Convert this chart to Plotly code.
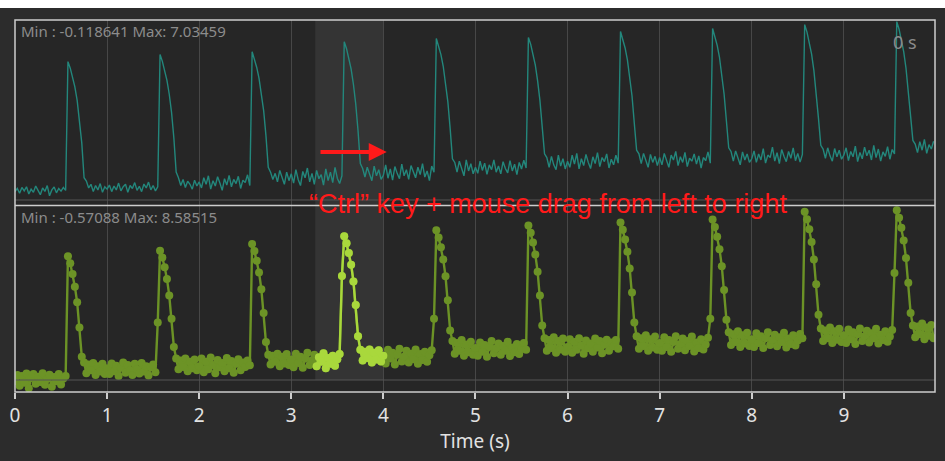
import numpy as np
import plotly.graph_objects as go

# ---------------- data ----------------
DT = 0.025  # sampling step (s) of both traces
SEL_START, SEL_END = 3.26, 4.0  # highlighted (selected) time window

top_0 = [0.05, 0.18, -0.02, 0.22, 0.08, 0.25, -0.05, 0.15, 0.02, 0.28, 0.10, -0.08, 0.20, 0.06, 0.30, -0.12, 0.12, 0.24, 0.00, 0.18, 0.07, 0.22, 0.10,
         5.39, 5.12, 4.78, 4.35, 3.80, 3.05, 2.05, 0.62, 0.48, 0.20, 0.35, 0.05, 0.30, 0.12, 0.38, 0.02, 0.25]
top_1 = [0.15, 0.32, 0.05, 0.28, 0.12, 0.40, 0.08, 0.25, 0.35, 0.02, 0.30, 0.18, 0.42, 0.10, 0.27, 0.05, 0.36, 0.20, 0.44, 0.12, 0.30, 0.08, 0.25,
         5.68, 5.40, 5.05, 4.62, 4.05, 3.30, 2.25, 0.85, 0.62, 0.30, 0.55, 0.22, 0.48, 0.35, 0.15, 0.52, 0.28]
top_2 = [0.45, 0.20, 0.62, 0.35, 0.70, 0.15, 0.50, 0.28, 0.66, 0.40, 0.10, 0.58, 0.32, 0.72, 0.25, 0.55, 0.38, 0.68, 0.18, 0.52, 0.42, 0.74, 0.30,
         5.80, 5.50, 5.15, 4.70, 4.12, 3.38, 2.35, 1.05, 0.85, 0.55, 0.80, 0.45, 0.92, 0.60, 0.35, 0.85, 0.50]
top_3 = [0.78, 0.40, 0.95, 0.55, 0.30, 0.88, 0.62, 1.02, 0.45, 0.80, 0.35, 0.92, 0.58, 0.75, 0.32, 0.98, 0.50, 0.85, 0.42, 1.05, 0.60, 0.38, 0.70,
         6.21, 5.92, 5.55, 5.08, 4.45, 3.65, 2.55, 1.20, 1.00, 0.65, 1.05, 0.75, 0.50, 1.10, 0.70, 0.95, 0.55]
top_4 = [0.72, 1.15, 0.60, 0.98, 0.52, 1.08, 0.80, 0.58, 1.18, 0.70, 0.95, 0.55, 1.12, 0.82, 0.62, 1.05, 0.75, 1.20, 0.65, 0.90, 0.50, 1.10, 0.85,
         6.34, 6.05, 5.68, 5.20, 4.55, 3.75, 2.65, 1.40, 1.25, 0.85, 1.30, 0.95, 0.70, 1.35, 0.90, 1.20, 0.78]
top_5 = [1.05, 0.80, 1.30, 0.92, 1.22, 0.76, 1.15, 0.95, 1.35, 0.85, 1.10, 0.78, 1.28, 1.00, 0.82, 1.32, 0.90, 1.18, 0.75, 1.25, 0.98, 1.34, 1.02,
         6.38, 6.10, 5.72, 5.25, 4.60, 3.80, 2.70, 1.60, 1.45, 1.05, 1.50, 1.15, 0.95, 1.55, 1.10, 1.40, 0.98]
top_6 = [1.30, 1.05, 1.55, 1.18, 1.62, 0.98, 1.40, 1.12, 1.58, 1.25, 1.00, 1.48, 1.20, 1.65, 1.08, 1.45, 1.28, 1.60, 1.02, 1.38, 1.15, 1.55, 1.22,
         6.63, 6.33, 5.95, 5.46, 4.80, 3.98, 2.85, 1.75, 1.60, 1.20, 1.62, 1.30, 1.05, 1.58, 1.25, 1.50, 1.12]
top_7 = [1.45, 1.15, 1.62, 1.28, 1.05, 1.55, 1.35, 1.70, 1.12, 1.48, 1.25, 1.66, 1.08, 1.42, 1.30, 1.60, 1.18, 1.52, 1.02, 1.45, 1.32, 1.68, 1.22,
         6.75, 6.45, 6.06, 5.56, 4.90, 4.05, 2.95, 1.85, 1.70, 1.30, 1.72, 1.40, 1.15, 1.68, 1.35, 1.60, 1.25]
top_8 = [1.40, 1.72, 1.25, 1.60, 1.35, 1.82, 1.22, 1.55, 1.45, 1.88, 1.30, 1.65, 1.20, 1.78, 1.50, 1.28, 1.70, 1.42, 1.85, 1.32, 1.62, 1.26, 1.58,
         6.91, 6.60, 6.20, 5.70, 5.02, 4.15, 3.05, 1.95, 1.80, 1.42, 1.85, 1.52, 1.30, 1.82, 1.48, 1.75, 1.38]
top_9 = [1.55, 1.85, 1.32, 1.70, 1.48, 1.92, 1.28, 1.66, 1.40, 1.88, 1.52, 1.75, 1.35, 1.95, 1.45, 1.80, 1.30, 1.68, 1.50, 1.90, 1.38, 1.78, 1.60,
         7.03459, 6.72, 6.32, 5.80, 5.12, 4.25, 3.15, 2.15, 2.00, 1.65, 2.10, 1.75, 2.20, 1.62, 1.98, 1.80, 2.12]

bot_0 = [-0.20, 0.10, -0.45, 0.05, -0.30, 0.18, -0.57088, -0.05, 0.15, -0.35, 0.02, -0.25, 0.20, -0.40, -0.10, 0.12, -0.50, 0.00, -0.22, 0.16, -0.38, -0.08, 0.05,
         6.22, 5.85, 5.30, 4.65, 3.85, 2.55, 1.05, 0.75, 0.20, 0.65, 0.35, 0.72, 0.10, 0.55, 0.28, 0.68, 0.15]
bot_1 = [0.45, 0.15, 0.70, 0.30, 0.58, 0.05, 0.48, 0.75, 0.22, 0.62, 0.35, 0.10, 0.68, 0.40, 0.18, 0.72, 0.28, 0.55, 0.08, 0.50, 0.65, 0.25, 2.80,
         6.50, 6.15, 5.65, 5.05, 4.20, 3.00, 1.55, 0.95, 0.40, 0.85, 0.52, 0.95, 0.30, 0.78, 0.45, 0.90, 0.35]
bot_2 = [0.55, 0.95, 0.25, 0.78, 0.40, 1.00, 0.62, 0.20, 0.88, 0.50, 0.72, 0.30, 0.98, 0.45, 0.82, 0.22, 0.68, 0.92, 0.35, 0.75, 0.52, 0.85, 0.60,
         6.85, 6.48, 5.98, 5.38, 4.52, 3.30, 1.80, 1.15, 0.65, 1.10, 0.78, 1.20, 0.55, 1.05, 0.70, 1.18, 0.62]
bot_3 = [0.90, 0.50, 1.20, 0.72, 1.05, 0.48, 0.95, 1.25, 0.62, 0.85, 1.15, 0.55, 1.02, 0.78, 1.22, 0.45, 0.98, 0.68, 1.10, 0.58, 0.92, 1.18, 5.20,
         7.25, 6.88, 6.38, 5.78, 4.92, 3.70, 2.10, 1.40, 0.85, 1.30, 0.98, 1.42, 0.75, 1.25, 0.90, 1.38, 0.80]
bot_4 = [1.10, 0.70, 1.40, 0.95, 1.25, 0.65, 1.15, 1.45, 0.80, 1.05, 1.35, 0.75, 1.20, 0.92, 1.42, 0.68, 1.18, 0.88, 1.30, 0.78, 1.12, 1.38, 3.00,
         7.55, 7.18, 6.68, 6.05, 5.18, 3.95, 2.40, 1.85, 1.20, 1.75, 1.35, 1.90, 1.10, 1.68, 1.28, 1.82, 1.15]
bot_5 = [1.50, 1.10, 1.78, 1.30, 1.65, 1.05, 1.55, 1.85, 1.22, 1.48, 1.72, 1.15, 1.60, 1.35, 1.82, 1.08, 1.52, 1.28, 1.70, 1.18, 1.45, 1.75, 1.40,
         7.80, 7.42, 6.92, 6.30, 5.42, 4.20, 2.65, 2.00, 1.35, 1.90, 1.50, 2.05, 1.25, 1.85, 1.42, 1.98, 1.30]
bot_6 = [1.55, 1.95, 1.25, 1.80, 1.40, 2.00, 1.62, 1.20, 1.88, 1.48, 1.72, 1.30, 1.98, 1.52, 1.85, 1.22, 1.68, 1.92, 1.35, 1.78, 1.58, 1.90, 1.45,
         7.95, 7.58, 7.08, 6.45, 5.58, 4.35, 2.80, 2.10, 1.45, 2.00, 1.60, 2.15, 1.35, 1.95, 1.52, 2.08, 1.40]
bot_7 = [1.75, 1.35, 2.05, 1.55, 1.90, 1.30, 1.80, 2.10, 1.45, 1.70, 1.98, 1.38, 1.85, 1.60, 2.08, 1.32, 1.78, 1.50, 1.95, 1.42, 1.68, 2.02, 3.00,
         8.10, 7.72, 7.22, 6.58, 5.70, 4.48, 2.95, 2.30, 1.65, 2.20, 1.80, 2.35, 1.55, 2.15, 1.72, 2.28, 1.60]
bot_8 = [1.95, 1.55, 2.25, 1.75, 2.10, 1.50, 2.00, 2.30, 1.65, 1.90, 2.18, 1.58, 2.05, 1.80, 2.28, 1.52, 1.98, 1.70, 2.15, 1.62, 1.88, 2.22, 2.00,
         8.50, 8.12, 7.60, 6.95, 6.05, 4.78, 3.20, 2.50, 1.85, 2.40, 2.00, 2.55, 1.75, 2.35, 1.92, 2.48, 1.80]
bot_9 = [2.15, 1.75, 2.45, 1.95, 2.30, 1.70, 2.20, 2.50, 1.85, 2.10, 2.38, 1.78, 2.25, 2.00, 2.48, 1.72, 2.18, 1.90, 2.35, 1.82, 2.08, 2.42, 5.35,
         8.58515, 8.20, 7.68, 7.02, 6.12, 4.85, 3.30, 2.65, 2.05, 2.60, 2.20, 2.75, 1.95, 2.55, 2.12, 2.68, 2.00]

top_cycles = [top_0, top_1, top_2, top_3, top_4, top_5, top_6, top_7, top_8, top_9]
bot_cycles = [bot_0, bot_1, bot_2, bot_3, bot_4, bot_5, bot_6, bot_7, bot_8, bot_9]

tick_vals = [0, 1, 2, 3, 4, 5, 6, 7, 8, 9]
tick_text = ["0", "1", "2", "3", "4", "5", "6", "7", "8", "9"]
top_label = "Min : -0.118641 Max: 7.03459"
bot_label = "Min : -0.57088 Max: 8.58515"
time_label = "0 s"
hint_text = "\u201cCtrl\u201d key + mouse drag from left to right"


def build(cycles):
    t, v = [], []
    for k, c in enumerate(cycles):
        t.extend(k + DT * np.arange(len(c)))
        v.extend(c)
    return np.array(t), np.array(v)


t_top, v_top = build(top_cycles)
t_bot, v_bot = build(bot_cycles)
sel = (t_bot >= SEL_START) & (t_bot <= SEL_END)

# ---------------- figure ----------------
W, H = 945, 461
ML, MR, MT, MB = 12, 10, 20, 69
PH = H - MT - MB  # 372


def py(pix):  # pixel row -> paper y
    return (H - MB - pix) / PH


def px(pix):  # pixel col -> paper x
    return (pix - ML) / (W - ML - MR)


TEAL = "#23877c"
OLIVE = "#6c9326"
LIME = "#a9d83c"

fig = go.Figure()
fig.add_trace(go.Scatter(x=t_top, y=v_top, mode="lines", xaxis="x", yaxis="y",
                         line=dict(color=TEAL, width=1.4), showlegend=False))
fig.add_trace(go.Scatter(x=t_bot, y=v_bot, mode="lines+markers", xaxis="x", yaxis="y2",
                         line=dict(color=OLIVE, width=2.4),
                         marker=dict(color=OLIVE, size=8), showlegend=False))
fig.add_trace(go.Scatter(x=t_bot[sel], y=v_bot[sel], mode="lines+markers", xaxis="x", yaxis="y2",
                         line=dict(color=LIME, width=2.4),
                         marker=dict(color=LIME, size=8), showlegend=False))

FRAME = "#cdcdcd"
shapes = [
    # selection highlight
    dict(type="rect", xref="x", yref="paper", x0=SEL_START, x1=SEL_END, y0=py(380), y1=1,
         fillcolor="#343434", line=dict(width=0), layer="below"),
    # inner base lines
    dict(type="line", xref="paper", yref="paper", x0=0, x1=1, y0=py(200), y1=py(200),
         line=dict(color="#555555", width=1)),
    dict(type="line", xref="paper", yref="paper", x0=0, x1=1, y0=py(380), y1=py(380),
         line=dict(color="#555555", width=1)),
    # frame
    dict(type="rect", xref="paper", yref="paper", x0=0, x1=1, y0=0, y1=1,
         line=dict(color=FRAME, width=1.5)),
    dict(type="line", xref="paper", yref="paper", x0=0, x1=1, y0=py(205.5), y1=py(205.5),
         line=dict(color=FRAME, width=1.5)),
    # white strip at the very top
    dict(type="rect", xref="paper", yref="paper", x0=-0.05, x1=1.05, y0=py(8), y1=py(-5),
         fillcolor="white", line=dict(width=0)),
]

annotations = [
    dict(xref="paper", yref="paper", x=px(16), y=py(31), xanchor="left", yanchor="middle",
         text=top_label, showarrow=False, font=dict(family="Noto Sans", size=15, color="#8c8c8c")),
    dict(xref="paper", yref="paper", x=px(16), y=py(217), xanchor="left", yanchor="middle",
         text=bot_label, showarrow=False, font=dict(family="Noto Sans", size=15, color="#8c8c8c")),
    dict(xref="paper", yref="paper", x=px(905), y=py(42), xanchor="center", yanchor="middle",
         text=time_label, showarrow=False, font=dict(family="Noto Sans", size=18, color="#8a8a8a")),
    dict(xref="x", yref="y", x=(385 - ML) / 92.4, y=(192.8 - 152) / 24.34,
         axref="x", ayref="y", ax=(317 - ML) / 92.4, ay=(192.8 - 152) / 24.34,
         text="", showarrow=True, arrowhead=2, arrowsize=0.9, arrowwidth=4, arrowcolor="#ff1a1a"),
    dict(xref="paper", yref="paper", x=px(305), y=py(204), xanchor="left", yanchor="middle",
         text=hint_text, showarrow=False,
         font=dict(family="Liberation Sans, Arial", size=27, color="#ff1a1a")),
]

fig.update_layout(
    width=W, height=H,
    margin=dict(l=ML, r=MR, t=MT, b=MB),
    paper_bgcolor="#2c2c2c",
    plot_bgcolor="#262626",
    shapes=shapes,
    annotations=annotations,
    xaxis=dict(domain=[0, 1], anchor="y2", range=[0, 9.99], tickmode="array",
               tickvals=tick_vals, ticktext=tick_text, ticks="outside", ticklen=6,
               tickwidth=1.5, tickcolor=FRAME, showgrid=True, gridcolor="#474747",
               gridwidth=1, zeroline=False, showline=False,
               tickfont=dict(family="Noto Sans", size=19, color="#e2e2e2"),
               title=dict(text="Time (s)", standoff=6,
                          font=dict(family="Noto Sans", size=19, color="#e2e2e2"))),
    yaxis=dict(domain=[py(205), 1], anchor="x", range=[-0.5, 7.1], showgrid=False,
               zeroline=False, showticklabels=False, ticks=""),
    yaxis2=dict(domain=[0, py(206)], anchor="x", range=[-0.77, 8.8], showgrid=False,
                zeroline=False, showticklabels=False, ticks=""),
)

fig.write_html("out.html", config={"displayModeBar": False},
               post_script="document.body.style.margin='0';")
